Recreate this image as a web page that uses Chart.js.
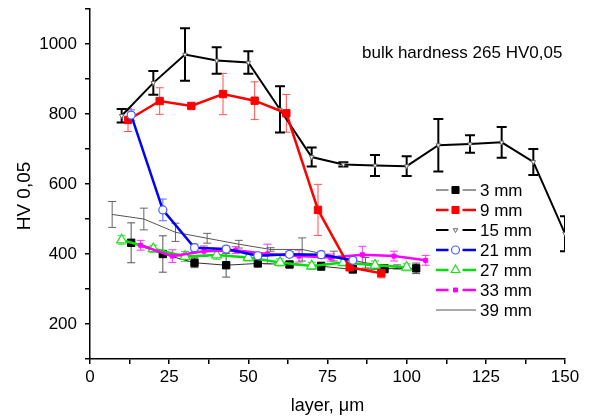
<!DOCTYPE html>
<html>
<head>
<meta charset="utf-8">
<script src="https://cdn.jsdelivr.net/npm/chart.js@4"></script>
<style>
html,body{margin:0;padding:0;background:#fff;}
#wrap{width:593px;height:419px;}
</style>
</head>
<body>
<div id="wrap"><canvas id="c" width="593" height="419"></canvas></div>
<script>
// ---- data ----
const x3  = [13, 23, 33, 43, 53, 63, 73, 83, 93, 103];
const hv3 = [432, 400, 375, 368, 373, 370, 365, 356, 358, 359];
const err3 = [57, 52, 14, 34, 6, 8, 12, 10, 12, 15];

const x9  = [12, 22, 32, 42, 52, 62, 72, 82, 92];
const hv9 = [783, 837, 823, 857, 838, 802, 526, 362, 345];
const err9 = [33, 38, 5, 59, 54, 54, 73, 8, 13];

const x15  = [10, 20, 30, 40, 50, 60, 70, 80, 90, 100, 110, 120, 130, 140, 150];
const hv15 = [795, 889, 970, 953, 947, 813, 677, 656, 653, 651, 711, 714, 719, 663, 458];
const err15 = [19, 34, 75, 38, 32, 66, 27, 6, 30, 28, 75, 25, 44, 37, 50];

const x21  = [13, 23, 33, 43, 53, 63, 73, 83];
const hv21 = [797, 526, 418, 414, 395, 399, 398, 382];
const err21 = [15, 31, 10, 8, 6, 8, 10, 8];

const x27  = [10, 20, 30, 40, 50, 60, 70, 80, 90, 100];
const hv27 = [440, 415, 393, 397, 390, 376, 366, 376, 368, 362];
const err27 = [12, 10, 14, 12, 10, 10, 10, 10, 12, 10];

const x33  = [16, 26, 36, 46, 56, 66, 76, 86, 96, 106];
const hv33 = [425, 394, 408, 411, 400, 394, 390, 398, 394, 382];
const err33 = [14, 18, 15, 10, 28, 17, 10, 24, 14, 14];

const x39  = [7, 17, 27, 37, 47, 57, 67, 77, 87, 97];
const hv39 = [513, 500, 462, 445, 428, 413, 413, 394, 375, 363];
const err39 = [37, 31, 26, 14, 11, 5, 33, 14, 15, 6];

const seriesLabels = ['3 mm', '9 mm', '15 mm', '21 mm', '27 mm', '33 mm', '39 mm'];
const xTickStep = 12.5, xLabelStep = 25;
const yTickStep = 100, yLabelStep = 200;
const annotationText = 'bulk hardness 265 HV0,05';
const xTitle = 'layer, \u03bcm';
const yTitle = 'HV 0,05';
// --------------------------------------

const FONT = "'Liberation Sans', Arial, sans-serif";
function pts(xs, ys) { return xs.map((x, i) => ({ x: x, y: ys[i] })); }

const datasets = [
  { label: seriesLabels[0], data: pts(x3, hv3), errors: err3, errColor: '#555', errWidth: 1, capW: 8,
    borderColor: '#333', borderWidth: 1, pointStyle: 'rect', pointRadius: 5.2,
    pointBackgroundColor: '#000', pointBorderColor: '#000', pointBorderWidth: 1, order: 5 },
  { label: seriesLabels[1], data: pts(x9, hv9), errors: err9, errColor: '#ff5050', errWidth: 1, capW: 8,
    borderColor: '#ff0000', borderWidth: 2.5, pointStyle: 'rect', pointRadius: 5.2,
    pointBackgroundColor: '#ff0000', pointBorderColor: '#ff0000', pointBorderWidth: 1, order: 2 },
  { label: seriesLabels[2], data: pts(x15, hv15), errors: err15, errColor: '#000', errWidth: 2, capW: 10,
    borderColor: '#000', borderWidth: 2, pointStyle: 'triangle', rotation: 180, pointRadius: 2.6,
    pointBackgroundColor: '#fff', pointBorderColor: '#666', pointBorderWidth: 1, order: 7 },
  { label: seriesLabels[3], data: pts(x21, hv21), errors: err21, errColor: '#5a6cff', errWidth: 1, capW: 8,
    borderColor: '#0000ff', borderWidth: 2.5, pointStyle: 'circle', pointRadius: 4,
    pointBackgroundColor: '#fff', pointBorderColor: '#4a5cff', pointBorderWidth: 1.2, order: 1 },
  { label: seriesLabels[4], data: pts(x27, hv27), errors: err27, errColor: '#33dd33', errWidth: 1, capW: 8,
    borderColor: '#00e000', borderWidth: 2.5, pointStyle: 'triangle', pointRadius: 5.8,
    pointBackgroundColor: '#fff', pointBorderColor: '#22dd22', pointBorderWidth: 1.2, order: 4 },
  { label: seriesLabels[5], data: pts(x33, hv33), errors: err33, errColor: '#ff33ff', errWidth: 1, capW: 8,
    borderColor: '#ff00ff', borderWidth: 2.5, pointStyle: 'rect', pointRadius: 2.8,
    pointBackgroundColor: '#ff00ff', pointBorderColor: '#ff00ff', pointBorderWidth: 1, order: 3 },
  { label: seriesLabels[6], data: pts(x39, hv39), errors: err39, errColor: '#666', errWidth: 1, capW: 8,
    borderColor: '#555', borderWidth: 1, pointStyle: 'circle', pointRadius: 0,
    pointBackgroundColor: '#555', pointBorderColor: '#555', pointBorderWidth: 0, order: 6 }
];
datasets.forEach(d => { d.tension = 0; d.fill = false; d.pointHoverRadius = d.pointRadius; });

const errorBars = {
  id: 'errorBars',
  beforeDatasetsDraw(chart) {
    const ctx = chart.ctx, xs = chart.scales.x, ys = chart.scales.y, a = chart.chartArea;
    ctx.save();
    ctx.beginPath(); ctx.rect(a.left, a.top, a.right - a.left, a.bottom - a.top); ctx.clip();
    chart.data.datasets.forEach(ds => {
      if (!ds.errors) return;
      ctx.strokeStyle = ds.errColor; ctx.lineWidth = ds.errWidth;
      ds.data.forEach((p, i) => {
        const e = ds.errors[i]; if (!e) return;
        const px = xs.getPixelForValue(p.x);
        const y1 = ys.getPixelForValue(p.y + e), y2 = ys.getPixelForValue(p.y - e);
        const h = ds.capW / 2;
        ctx.beginPath();
        ctx.moveTo(px, y1); ctx.lineTo(px, y2);
        ctx.moveTo(px - h, y1); ctx.lineTo(px + h, y1);
        ctx.moveTo(px - h, y2); ctx.lineTo(px + h, y2);
        ctx.stroke();
      });
    });
    ctx.restore();
  }
};

const decorations = {
  id: 'decorations',
  afterDraw(chart) {
    const ctx = chart.ctx, a = chart.chartArea;
    ctx.save();
    ctx.fillStyle = '#000';
    // annotation
    ctx.font = '17px ' + FONT; ctx.textAlign = 'left'; ctx.textBaseline = 'middle';
    ctx.fillText(annotationText, 362, 53);
    // x title
    ctx.font = '18px ' + FONT; ctx.textAlign = 'center';
    ctx.fillText(xTitle, (a.left + a.right) / 2, 406);
    // y title
    ctx.save(); ctx.translate(25, 196); ctx.rotate(-Math.PI / 2);
    ctx.font = '19px ' + FONT; ctx.textAlign = 'center'; ctx.textBaseline = 'middle';
    ctx.fillText(yTitle, 0, 0); ctx.restore();
    // legend
    const lx0 = 436, lx1 = 476, mx = 455.5, tx = 480;
    chart.data.datasets.forEach((ds, i) => {
      const y = 190 + 20 * i;
      ctx.strokeStyle = ds.borderColor; ctx.lineWidth = ds.borderWidth;
      ctx.beginPath();
      if (ds.pointRadius > 0) {
        ctx.moveTo(lx0, y); ctx.lineTo(mx - 7, y);
        ctx.moveTo(mx + 7, y); ctx.lineTo(lx1, y);
      } else {
        ctx.moveTo(lx0, y); ctx.lineTo(lx1, y);
      }
      ctx.stroke();
      if (ds.pointRadius > 0) {
        ctx.fillStyle = ds.pointBackgroundColor; ctx.strokeStyle = ds.pointBorderColor;
        ctx.lineWidth = ds.pointBorderWidth;
        Chart.helpers.drawPoint(ctx, { pointStyle: ds.pointStyle, rotation: ds.rotation || 0,
          radius: Math.min(ds.pointRadius, 5), borderWidth: ds.pointBorderWidth }, mx, y);
      }
      ctx.fillStyle = '#000'; ctx.font = '17px ' + FONT;
      ctx.textAlign = 'left'; ctx.textBaseline = 'middle';
      ctx.fillText(ds.label, tx, y + 1);
    });
    ctx.restore();
  }
};

new Chart(document.getElementById('c'), {
  type: 'line',
  data: { datasets: datasets },
  options: {
    responsive: false, animation: false, devicePixelRatio: 1,
    layout: { padding: { top: 9, right: 28, left: 0, bottom: 0 } },
    plugins: { legend: { display: false }, tooltip: { enabled: false } },
    scales: {
      x: {
        type: 'linear', min: 0, max: 150,
        afterFit: s => { s.height = 60; s.paddingLeft = 0; s.paddingRight = 0; },
        border: { display: true, color: '#000', width: 1.5 },
        grid: { drawOnChartArea: false, drawTicks: true, tickLength: 5, color: '#000', lineWidth: 1.5 },
        ticks: { stepSize: xTickStep, autoSkip: false, maxRotation: 0, padding: 3, color: '#000',
          font: { family: FONT, size: 17 },
          callback: v => (v % xLabelStep === 0 ? String(v) : '') }
      },
      y: {
        type: 'linear', min: 100, max: 1100,
        afterFit: s => { s.width = 90; s.paddingTop = 0; s.paddingBottom = 0; },
        border: { display: true, color: '#000', width: 1.5 },
        grid: { drawOnChartArea: false, drawTicks: true, tickLength: 5, color: '#000', lineWidth: 1.5 },
        ticks: { stepSize: yTickStep, autoSkip: false, padding: 8, color: '#000',
          font: { family: FONT, size: 17 },
          callback: v => (v % yLabelStep === 0 && v >= 200 && v <= 1000 ? String(v) : '') }
      }
    }
  },
  plugins: [errorBars, decorations]
});
</script>
</body>
</html>
